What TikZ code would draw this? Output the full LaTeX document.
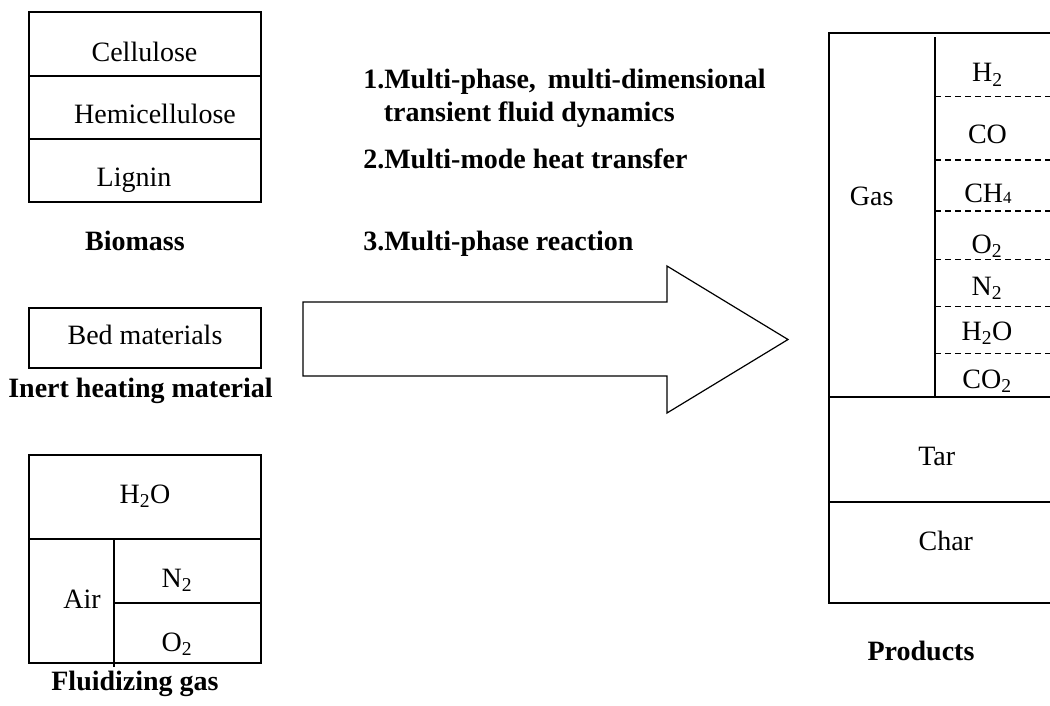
\documentclass[tikz,border=0pt]{standalone}
\usepackage{fontspec}
\setmainfont{Liberation Serif}
\begin{document}
\begin{tikzpicture}[x=1pt,y=-1pt,line width=1.2pt,
  every node/.style={font=\fontsize{28pt}{34pt}\selectfont, inner sep=0pt},
  lbl/.style={anchor=base},
  hd/.style={anchor=base, font=\fontsize{28pt}{34pt}\selectfont\bfseries},
  lst/.style={anchor=base west, font=\fontsize{28pt}{34pt}\selectfont\bfseries},
  dashline/.style={dash pattern=on 6pt off 4pt}]
\useasboundingbox (0,0) rectangle (1050,705);
% Biomass
\draw (29,12) rectangle (261,202);
\draw (29,76) -- (261,76);
\draw (29,139) -- (261,139);
\node[lbl] (cel) at (144.5,61) {Cellulose};
\node[lbl] (hemi) at (155,123) {Hemicellulose};
\node[lbl] (lig) at (134,186.5) {Lignin};
\node[hd] (bio) at (135,250) {Biomass};
% Bed materials
\draw (29,308) rectangle (261,368);
\node[lbl] (bed) at (145,344) {Bed materials};
\node[hd] (inert) at (140.5,397) {Inert heating material};
% Fluidizing gas
\draw (29,455) rectangle (261,663);
\draw (29,539) -- (261,539);
\draw (114,539) -- (114,667);
\draw (114,603) -- (261,603);
\node[lbl] (fh2o) at (145,503) {H\textsubscript{2}O};
\node[lbl] (air) at (82,608) {Air};
\node[lbl] (fn2) at (177,587) {N\textsubscript{2}};
\node[lbl] (fo2) at (177,651.5) {O\textsubscript{2}};
\node[hd] (flu) at (135,690) {Fluidizing gas};
% Processes
\node[lst] (p1) at (362.7,88.3) {1.Multi-phase,\hspace{12pt}multi-dimensional};
\node[lst] (p1b) at (383.3,121.7) {transient fluid dynamics};
\node[lst] (p2) at (362.7,168.3) {2.Multi-mode heat transfer};
\node[lst] (p3) at (362.7,250) {3.Multi-phase reaction};
% Big arrow
\draw (303,302) -- (667,302) -- (667,266) -- (788,339.5) -- (667,413) -- (667,376) -- (303,376) -- cycle;
% Products
\draw (1050,33) -- (829,33) -- (829,603) -- (1050,603);
\draw (829,397) -- (1050,397);
\draw (829,502) -- (1050,502);
\draw (935,37) -- (935,397);
\foreach \yy in {96.7,160,211,259.3,306.7,353.3}
  \draw[dashline] (935,\yy) -- (1050,\yy);
\node[lbl] (gas) at (871.7,205) {Gas};
\node[lbl] (ph2) at (987.5,81.7) {H\textsubscript{2}};
\node[lbl] (pco) at (987.5,143.3) {CO};
\node[lbl] (pch4) at (988,202.7) {CH\raisebox{-0.05ex}{\fontsize{17pt}{20pt}\selectfont 4}};
\node[lbl] (po2) at (987,253.3) {O\textsubscript{2}};
\node[lbl] (pn2) at (987,295) {N\textsubscript{2}};
\node[lbl] (ph2o) at (987,340) {H\textsubscript{2}O};
\node[lbl] (pco2) at (987,388.3) {CO\textsubscript{2}};
\node[lbl] (tar) at (936.7,465) {Tar};
\node[lbl] (char) at (945.8,550) {Char};
\node[hd] (prod) at (921,660) {Products};
\end{tikzpicture}
\end{document}
